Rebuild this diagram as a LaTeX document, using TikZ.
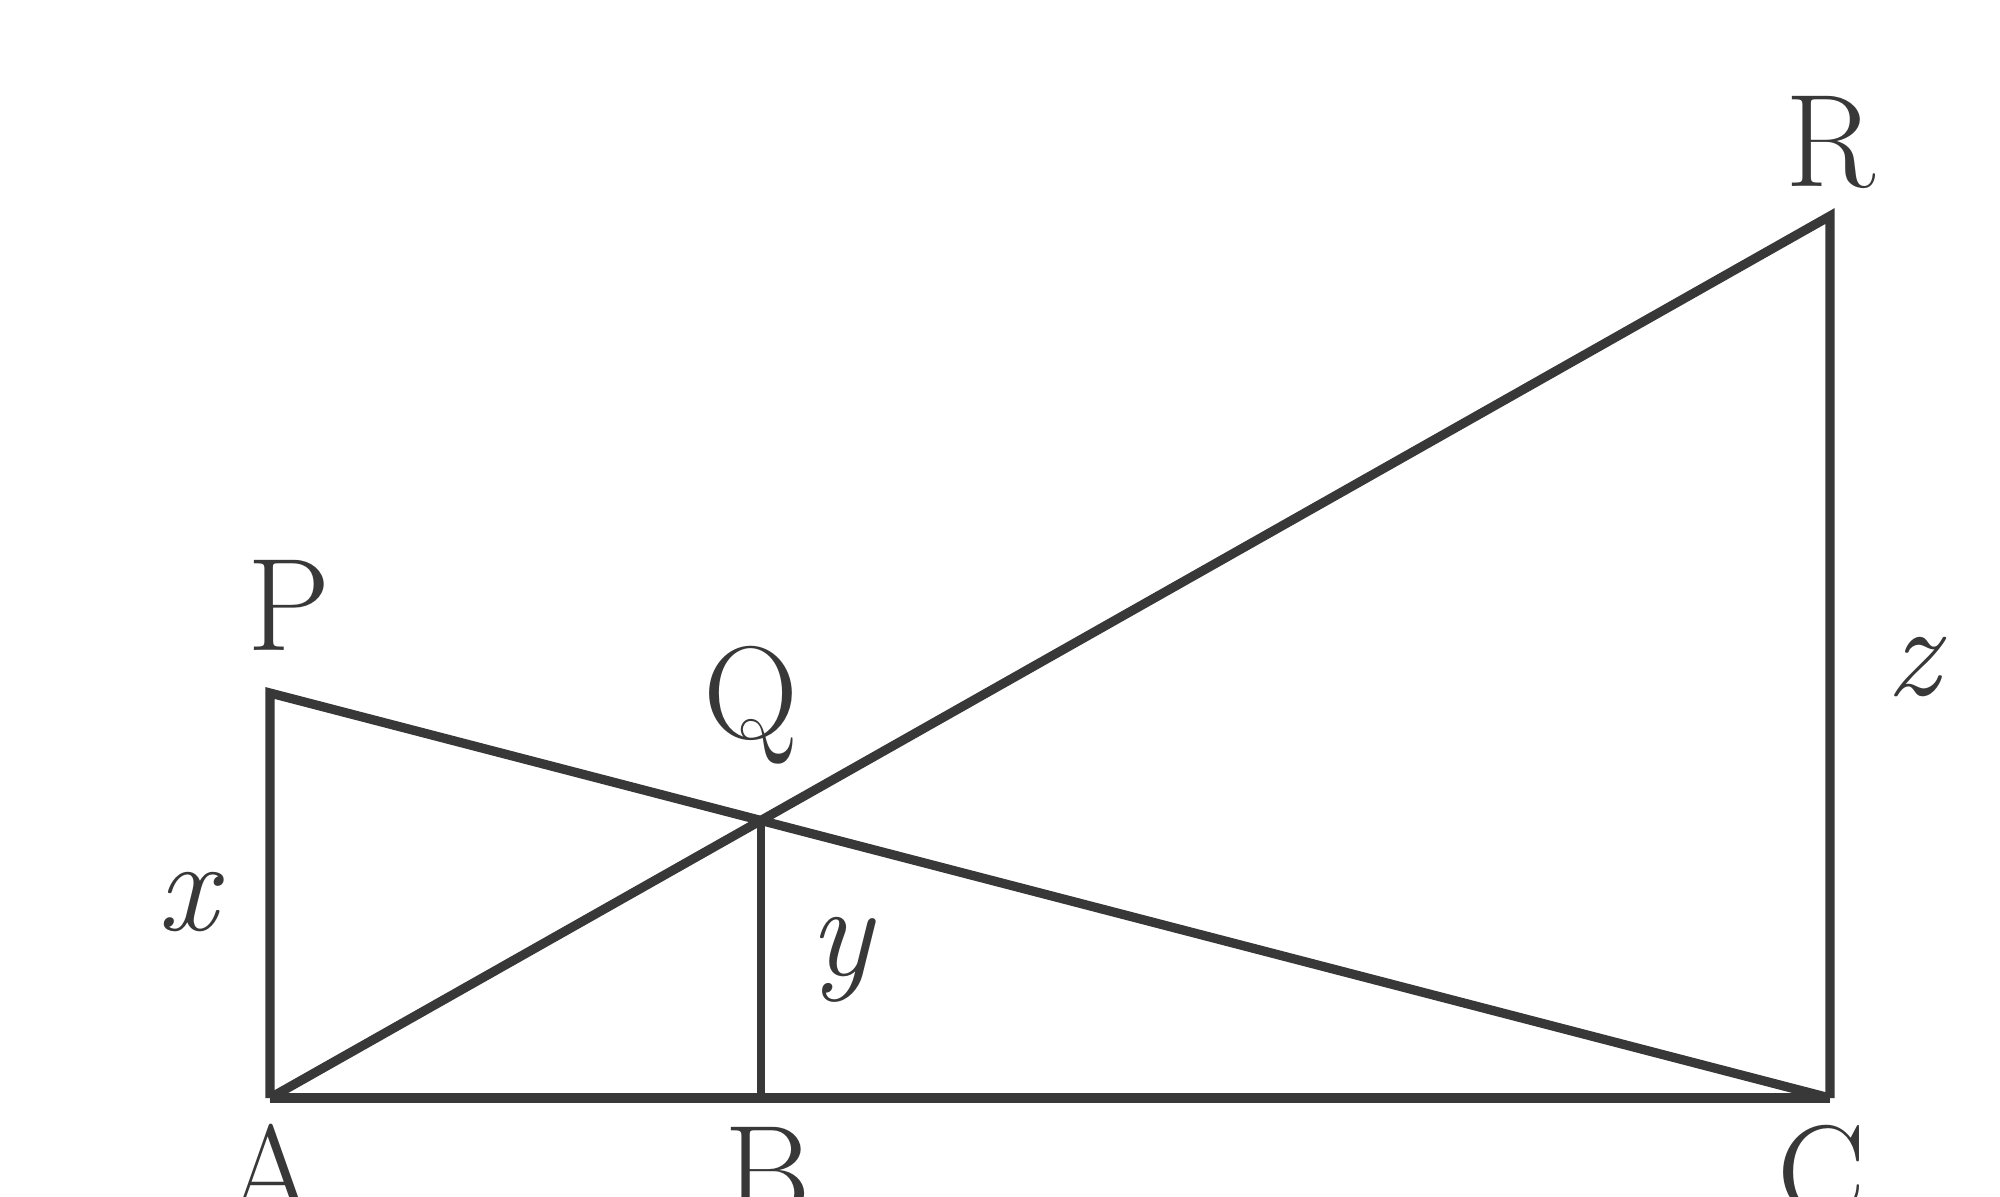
\documentclass[tikz,border=0pt]{standalone}
\usepackage{fontspec}
\begin{document}
\begin{tikzpicture}[x=0.5pt,y=-0.5pt,
  seg/.style={draw=black!78,line width=4.6pt},
  lab/.style={anchor=base,inner sep=0pt,text=black!78,font=\fontsize{66}{80}\selectfont}]
\useasboundingbox (0,0) rectangle (2000,1196);
\clip (0,0) rectangle (2000,1196);
\coordinate (A) at (270,1098);
\coordinate (C) at (1830,1098);
\coordinate (P) at (270,693);
\coordinate (R) at (1830,216);
\coordinate (Q) at (intersection of P--C and A--R);
\coordinate (B) at (Q |- A);
\draw[seg] (A) -- (P) -- (C);
\draw[seg] (A) -- (R) -- (C);
\draw[seg,line width=5pt] (A) -- (C);
\draw[seg,line width=4pt] (Q) -- (B);
\node[lab] (lP) at (289,650) {P};
\node[lab] (lQ) at (751,738) {Q};
\node[lab] (lR) at (1830,186) {R};
\node[lab] (lA) at (271,1217) {A};
\node[lab] (lB) at (768,1217) {B};
\node[lab] (lC) at (1822,1217) {C};
\node[lab] (lx) at (191,930) {\textit{x}};
\node[lab] (ly) at (843,975) {\textit{y}};
\node[lab] (lz) at (1917,695) {\textit{z}};
\end{tikzpicture}
\end{document}
